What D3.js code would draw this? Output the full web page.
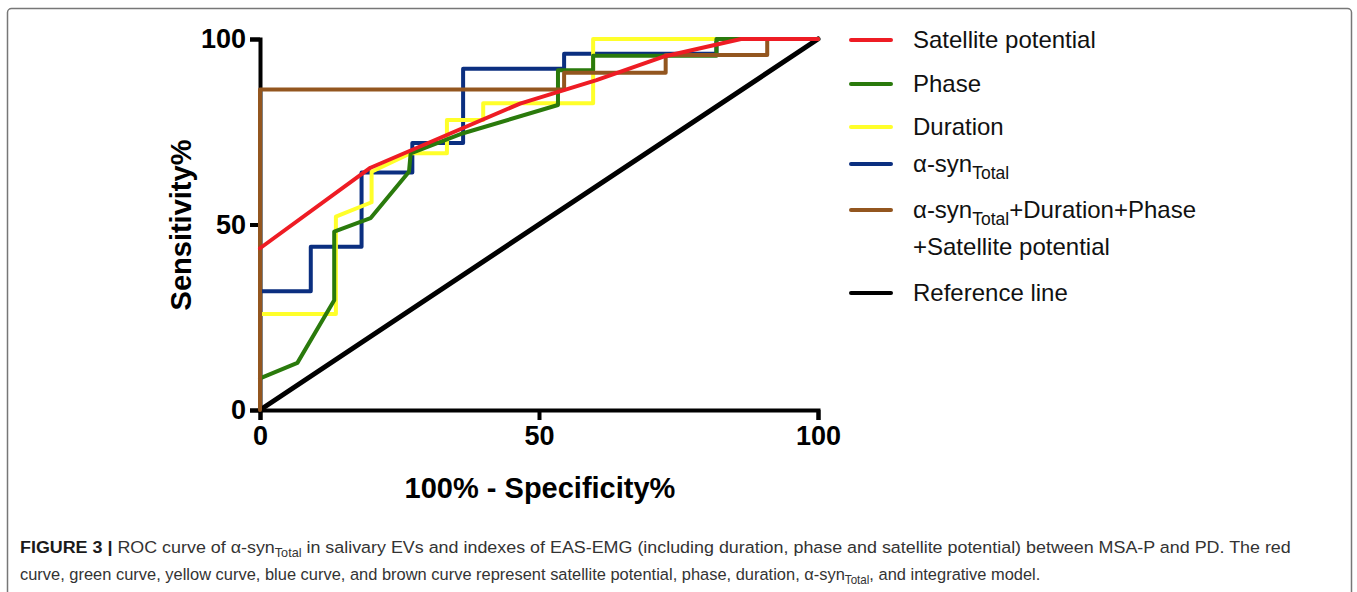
<!DOCTYPE html>
<html>
<head>
<meta charset="utf-8">
<script src="https://cdn.jsdelivr.net/npm/d3@7"></script>
<style>
  body { margin: 0; background: #fff; }
  text { font-family: "Liberation Sans", Arial, sans-serif; }
</style>
</head>
<body>
<script>
// ROC curves: x = 100% - Specificity%, y = Sensitivity%
var satX = [0, 19.8, 46.6, 60.3, 72.2, 86.2, 100];
var satY = [43.6, 65.3, 82.6, 88.9, 95.2, 100, 100];

var phaseX = [0, 6.7, 13.3, 13.3, 19.8, 26.7, 27, 36.4, 53.4, 53.4, 59.7, 59.7, 81.8, 81.8, 100];
var phaseY = [8.5, 12.7, 29.6, 48.1, 51.7, 64.2, 69.2, 74.6, 82.2, 91.6, 91.6, 95.5, 95.5, 100, 100];

var durX = [0, 13.6, 13.6, 20, 20, 27, 33.5, 33.5, 40, 40, 59.7, 59.7, 100];
var durY = [25.9, 25.9, 52.1, 56, 64.2, 69.2, 69.2, 78.2, 78.2, 82.7, 82.7, 100, 100];

var synX = [0, 9.1, 9.1, 18.2, 18.2, 27.3, 27.3, 36.4, 36.4, 54.5, 54.5, 81.8, 81.8, 100];
var synY = [32, 32, 44, 44, 64, 64, 72, 72, 92, 92, 96, 96, 100, 100];

var combX = [0, 0, 54.5, 54.5, 72.7, 72.7, 90.9, 90.9, 100];
var combY = [0, 86.4, 86.4, 90.9, 90.9, 95.7, 95.7, 100, 100];

var refX = [0, 100];
var refY = [0, 100];

var tickValues = [0, 50, 100];

var svg = d3.select("body").append("svg")
  .attr("width", 1357)
  .attr("height", 592);

// figure frame
svg.append("rect")
  .attr("x", 7.5).attr("y", 8.5)
  .attr("width", 1344).attr("height", 620)
  .attr("rx", 4)
  .attr("fill", "none")
  .attr("stroke", "#777")
  .attr("stroke-width", 1.5);

var margin = { top: 39, left: 260 },
  width = 558,
  height = 371;

var g = svg.append("g")
  .attr("transform", "translate(" + margin.left + "," + margin.top + ")");

var x = d3.scaleLinear().domain([0, 100]).range([0, width]);
var y = d3.scaleLinear().domain([0, 100]).range([height, 0]);

var line = d3.line()
  .x(function (d) { return x(d[0]); })
  .y(function (d) { return y(d[1]); });

// axes
var xAxis = g.append("g")
  .attr("transform", "translate(0," + height + ")")
  .call(d3.axisBottom(x).tickValues(tickValues).tickSizeOuter(0).tickSize(10).tickPadding(6));
var yAxis = g.append("g")
  .call(d3.axisLeft(y).tickValues(tickValues).tickSizeOuter(0).tickSize(10).tickPadding(4));

[xAxis, yAxis].forEach(function (a) {
  a.select(".domain").attr("stroke", "#000").attr("stroke-width", 4);
  a.selectAll(".tick line").attr("stroke", "#000").attr("stroke-width", 4);
  a.selectAll(".tick text")
    .attr("fill", "#000")
    .style("font-size", "27px")
    .style("font-weight", "bold");
});

var zip = function (xs, ys) { return xs.map(function (v, i) { return [v, ys[i]]; }); };

var series = [
  { name: "ref", color: "#000000", pts: zip(refX, refY) },
  { name: "syn", color: "#0b2f80", pts: zip(synX, synY) },
  { name: "dur", color: "#ffff2a", pts: zip(durX, durY) },
  { name: "phase", color: "#2a7a0c", pts: zip(phaseX, phaseY) },
  { name: "comb", color: "#93561f", pts: zip(combX, combY) },
  { name: "sat", color: "#ee1c24", pts: zip(satX, satY) }
];

series.forEach(function (s) {
  g.append("path")
    .attr("d", line(s.pts))
    .attr("fill", "none")
    .attr("stroke", s.color)
    .attr("stroke-width", s.name === "ref" ? 5 : 4)
    .attr("stroke-linejoin", "round")
    .attr("stroke-linecap", "round");
});

// axis titles
svg.append("text")
  .attr("x", 540).attr("y", 498)
  .attr("text-anchor", "middle")
  .style("font-size", "29px").style("font-weight", "bold")
  .text("100% - Specificity%");

svg.append("text")
  .attr("transform", "translate(191,225) rotate(-90)")
  .attr("text-anchor", "middle")
  .style("font-size", "29px").style("font-weight", "bold")
  .text("Sensitivity%");

// legend
var legend = [
  { color: "#ee1c24", y: 40, label: ["Satellite potential"] },
  { color: "#2a7a0c", y: 84, label: ["Phase"] },
  { color: "#ffff2a", y: 127, label: ["Duration"] },
  { color: "#0b2f80", y: 164, label: ["α-syn", "Total"] },
  { color: "#93561f", y: 210, label: ["α-syn", "Total", "+Duration+Phase"] },
  { color: "#000000", y: 293, label: ["Reference line"] }
];

legend.forEach(function (d) {
  svg.append("line")
    .attr("x1", 851).attr("x2", 891)
    .attr("y1", d.y).attr("y2", d.y)
    .attr("stroke", d.color)
    .attr("stroke-width", 4)
    .attr("stroke-linecap", "round");
  var t = svg.append("text")
    .attr("x", 913).attr("y", d.y + 8)
    .attr("fill", "#111")
    .style("font-size", "24px");
  t.append("tspan").text(d.label[0]);
  if (d.label.length > 1) {
    t.append("tspan").attr("dy", 7).style("font-size", "17.5px").text(d.label[1]);
  }
  if (d.label.length > 2) {
    t.append("tspan").attr("dy", -7).text(d.label[2]);
  }
});
svg.append("text")
  .attr("x", 913).attr("y", 255)
  .attr("fill", "#111")
  .style("font-size", "24px")
  .text("+Satellite potential");

// caption
function captionLine(yPos, parts, targetW) {
  var cg = svg.append("g");
  var t = cg.append("text").attr("x", 0).attr("y", 0)
    .style("font-size", "17px").attr("fill", "#333");
  parts.forEach(function (p) {
    var ts = t.append("tspan").text(p.t);
    if (p.bold) ts.style("font-weight", "bold").attr("fill", "#1a1a1a");
    if (p.sub) ts.attr("dy", 4).style("font-size", "12px");
    if (p.up) ts.attr("dy", -4);
  });
  var w = t.node().getComputedTextLength();
  cg.attr("transform", "translate(20," + yPos + ") scale(" + (targetW / w) + ",1)");
}

captionLine(553, [
  { t: "FIGURE 3 | ", bold: true },
  { t: "ROC curve of α-syn" },
  { t: "Total", sub: true },
  { t: " in salivary EVs and indexes of EAS-EMG (including duration, phase and satellite potential) between MSA-P and PD. The red", up: true }
], 1272);

captionLine(580, [
  { t: "curve, green curve, yellow curve, blue curve, and brown curve represent satellite potential, phase, duration, α-syn" },
  { t: "Total", sub: true },
  { t: ", and integrative model.", up: true }
], 1021);
</script>
</body>
</html>
